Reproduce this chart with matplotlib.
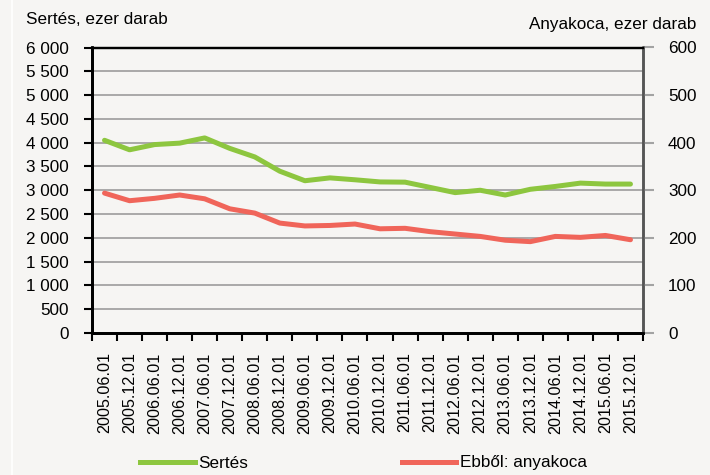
import numpy as np
import matplotlib
matplotlib.use('Agg')
from matplotlib import pyplot as plt
from matplotlib.lines import Line2D
from matplotlib.ticker import FixedLocator, FuncFormatter

plt.rcParams['font.family'] = ['Liberation Sans', 'DejaVu Sans']

dates = ['2005.06.01', '2005.12.01', '2006.06.01', '2006.12.01', '2007.06.01',
         '2007.12.01', '2008.06.01', '2008.12.01', '2009.06.01', '2009.12.01',
         '2010.06.01', '2010.12.01', '2011.06.01', '2011.12.01', '2012.06.01',
         '2012.12.01', '2013.06.01', '2013.12.01', '2014.06.01', '2014.12.01',
         '2015.06.01', '2015.12.01']

# pigs, thousand head (left axis)
sertes = [4050, 3850, 3960, 3990, 4100, 3880, 3700, 3400, 3200, 3260, 3220,
          3175, 3170, 3060, 2950, 3000, 2900, 3020, 3080, 3150, 3130, 3130]

# of which sows, thousand head (right axis)
anyakoca = [294, 278, 283, 290, 282, 261, 252, 231, 225, 226, 229,
            219, 220, 213, 208, 203, 195, 192, 203, 201, 205, 196]

left_ticks = np.arange(0, 6001, 500)
right_ticks = np.arange(0, 601, 100)

bg = '#f6f5f3'
green = '#8dc63f'
red = '#f0655a'

fig = plt.figure(figsize=(7.1, 4.75), dpi=100, facecolor=bg)
ax = fig.add_axes([92 / 710, 1 - 333 / 475, (643 - 92) / 710, (333 - 47.5) / 475])
ax.set_facecolor(bg)

x = np.arange(len(dates))
ax.plot(x, sertes, color=green, lw=3.6, solid_capstyle='round', zorder=3)

ax2 = ax.twinx()
ax2.plot(x, anyakoca, color=red, lw=3.6, solid_capstyle='round', zorder=3)

ax.set_xlim(-0.5, len(dates) - 0.5)
ax.set_ylim(0, 6000)
ax2.set_ylim(0, 600)

# grid
for v in left_ticks[1:-1]:
    ax.axhline(v, color='#a3a3a3', lw=1.3, zorder=1)

ax.set_yticks(left_ticks)
ax.yaxis.set_major_formatter(FuncFormatter(lambda v, p: f'{int(v):,}'.replace(',', ' ')))
ax.tick_params(axis='y', direction='out', length=6, width=1.5, color='black',
               labelsize=12.3, pad=11)

ax.set_xticks(x)
ax.set_xticklabels(dates, rotation=90)
ax.xaxis.set_minor_locator(FixedLocator(np.arange(-0.5, len(dates), 1.0)))
ax.tick_params(axis='x', which='major', length=0, labelsize=11.6, pad=14)
ax.tick_params(axis='x', which='minor', direction='out', length=6, width=1.5, color='black')

ax2.set_yticks(right_ticks)
ax2.tick_params(axis='y', direction='out', length=8, width=1.5, color='#a3a3a3',
                labelsize=12.3, pad=10)

for a in (ax, ax2):
    a.spines['left'].set_color('black')
    a.spines['left'].set_linewidth(2)
    a.spines['bottom'].set_color('black')
    a.spines['bottom'].set_linewidth(2)
    a.spines['top'].set_color('black')
    a.spines['top'].set_linewidth(1.6)
    a.spines['right'].set_color('#555555')
    a.spines['right'].set_linewidth(1.8)

fig.text(26 / 710, 1 - 20 / 475, 'Sertés, ezer darab', fontsize=12.3, va='center', ha='left')
fig.text(696 / 710, 1 - 25 / 475, 'Anyakoca, ezer darab', fontsize=12.3, va='center', ha='right')

# legend
handles = [Line2D([], [], color=green, lw=3.6), Line2D([], [], color=red, lw=3.6)]
fig.legend(handles, ['Sertés', 'Ebből: anyakoca'], loc='center', ncol=2,
           bbox_to_anchor=(0.512, 1 - 463 / 475), frameon=False, fontsize=12.3,
           handlelength=3.2, handletextpad=0.2, columnspacing=9.0)

fig.add_artist(Line2D([12 / 710, 12 / 710], [0, 1], color='white', lw=1.2))

fig.savefig('out.png', dpi=100, facecolor=bg)
